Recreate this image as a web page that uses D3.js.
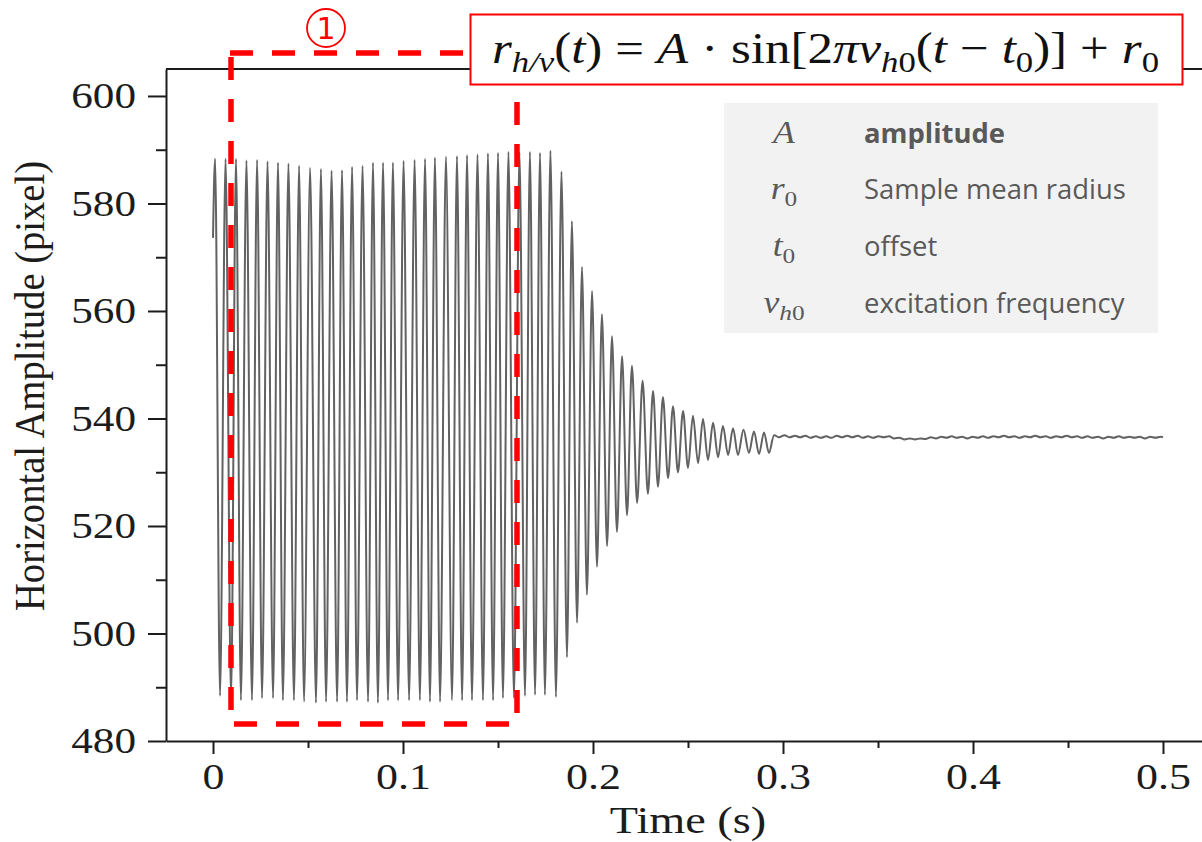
<!DOCTYPE html>
<html>
<head>
<meta charset="utf-8">
<script src="https://cdn.jsdelivr.net/npm/d3@7"></script>
<style>
  body { margin: 0; background: #ffffff; }
  svg { display: block; }
</style>
</head>
<body>
<svg id="chart" width="1202" height="842"></svg>
<script>
// ---- Measured horizontal amplitude of the sample (pixel) versus time (s) ----
// The record is stored as its successive extrema; the line is drawn through them.
const startTime = 0.0;
const startValue = 573.6;

const peakTimes = [
  0.0011, 0.0066, 0.0121, 0.0176, 0.0232, 0.0287, 0.0342, 0.0397, 0.0453, 0.0511,
  0.0568, 0.0624, 0.0679, 0.0732, 0.0787, 0.0842, 0.0895, 0.0947, 0.1003, 0.1061,
  0.1116, 0.1168, 0.1226, 0.1284, 0.1337, 0.1392, 0.1447, 0.1500, 0.1555, 0.1613,
  0.1668, 0.1721, 0.1776, 0.1834, 0.1889, 0.1942, 0.1995, 0.2047, 0.2100, 0.2153,
  0.2205, 0.2261, 0.2316, 0.2368, 0.2421, 0.2474, 0.2526, 0.2579, 0.2632, 0.2684,
  0.2737, 0.2792, 0.2847, 0.2900
];
const peakValues = [
  588.3, 588.3, 588.3, 588.0, 588.1, 587.8, 587.6, 587.4, 587.0, 586.6,
  586.4, 586.1, 586.2, 586.8, 587.0, 587.6, 587.6, 587.6, 587.9, 588.1,
  588.3, 588.5, 588.7, 588.8, 589.0, 589.1, 589.3, 589.4, 589.6, 589.5,
  589.6, 589.4, 589.8, 585.9, 576.7, 568.2, 563.7, 559.4, 555.3, 551.6,
  549.8, 547.0, 545.1, 544.0, 542.3, 541.4, 540.5, 539.9, 539.2, 538.6,
  538.2, 537.9, 537.6, 537.4
];

const troughTimes = [
  0.0037, 0.0095, 0.0147, 0.0205, 0.0258, 0.0316, 0.0368, 0.0426, 0.0479, 0.0542,
  0.0595, 0.0653, 0.0705, 0.0758, 0.0816, 0.0868, 0.0921, 0.0974, 0.1032, 0.1089,
  0.1142, 0.1195, 0.1258, 0.1311, 0.1363, 0.1421, 0.1474, 0.1526, 0.1584, 0.1642,
  0.1695, 0.1747, 0.1805, 0.1863, 0.1916, 0.1968, 0.2021, 0.2074, 0.2126, 0.2179,
  0.2232, 0.2289, 0.2342, 0.2395, 0.2447, 0.2500, 0.2553, 0.2605, 0.2658, 0.2711,
  0.2763, 0.2821, 0.2874, 0.2926
];
const troughValues = [
  488.4, 488.0, 487.6, 487.6, 488.0, 488.0, 487.6, 487.6, 487.3, 487.1,
  487.3, 487.3, 487.3, 487.6, 487.3, 487.1, 487.6, 487.6, 487.6, 487.6,
  487.3, 487.3, 487.6, 487.6, 487.6, 487.6, 487.6, 488.0, 488.0, 488.4,
  488.6, 488.6, 488.2, 495.6, 502.0, 507.2, 512.4, 516.3, 518.9, 522.0,
  524.3, 526.0, 527.3, 528.9, 530.0, 530.8, 531.7, 532.3, 532.8, 533.2,
  533.2, 533.6, 533.4, 533.6
];

// settled part of the record
const tailTimes = [
  0.2953, 0.2980, 0.3008, 0.3035, 0.3063, 0.3090, 0.3118, 0.3145, 0.3173, 0.3200,
  0.3228, 0.3255, 0.3283, 0.3310, 0.3338, 0.3365, 0.3393, 0.3420, 0.3448, 0.3475,
  0.3503, 0.3530, 0.3558, 0.3585, 0.3613, 0.3640, 0.3668, 0.3695, 0.3723, 0.3750,
  0.3778, 0.3805, 0.3833, 0.3860, 0.3888, 0.3915, 0.3943, 0.3970, 0.3998, 0.4025,
  0.4053, 0.4080, 0.4108, 0.4135, 0.4163, 0.4190, 0.4218, 0.4245, 0.4273, 0.4300,
  0.4328, 0.4355, 0.4383, 0.4410, 0.4438, 0.4465, 0.4493, 0.4520, 0.4548, 0.4575,
  0.4603, 0.4630, 0.4658, 0.4685, 0.4713, 0.4740, 0.4768, 0.4795, 0.4823, 0.4850,
  0.4878, 0.4905, 0.4933, 0.4960, 0.4988, 0.5000
];
const tailValues = [
  536.9, 536.5, 536.9, 536.5, 536.8, 536.5, 536.8, 536.4, 536.7, 536.4,
  536.7, 536.4, 536.8, 536.5, 536.8, 536.5, 536.8, 536.4, 536.7, 536.4,
  536.7, 536.5, 536.7, 536.3, 536.4, 536.1, 536.3, 536.1, 536.3, 536.2,
  536.5, 536.3, 536.6, 536.4, 536.7, 536.4, 536.6, 536.3, 536.6, 536.4,
  536.7, 536.4, 536.7, 536.5, 536.8, 536.5, 536.7, 536.4, 536.7, 536.5,
  536.8, 536.5, 536.7, 536.4, 536.7, 536.5, 536.8, 536.5, 536.7, 536.4,
  536.7, 536.4, 536.6, 536.3, 536.6, 536.4, 536.7, 536.4, 536.6, 536.4,
  536.6, 536.3, 536.6, 536.4, 536.6, 536.5
];

// axes
const xTicks = [0, 0.1, 0.2, 0.3, 0.4, 0.5];
const xTickLabels = ["0", "0.1", "0.2", "0.3", "0.4", "0.5"];
const xMinorTicks = [0.05, 0.15, 0.25, 0.35, 0.45];
const yTicks = [480, 500, 520, 540, 560, 580, 600];
const yTickLabels = ["480", "500", "520", "540", "560", "580", "600"];
const yMinorTicks = [490, 510, 530, 550, 570, 590];
const xTitle = "Time (s)";
const yTitle = "Horizontal Amplitude (pixel)";

// parameter legend
const legendSymbols = [
  [{ t: "A" }],
  [{ t: "r" }, { t: "0", sub: true }],
  [{ t: "t" }, { t: "0", sub: true }],
  [{ t: "v" }, { t: "h", sub: true }, { t: "0", sub: true, up: true }]
];
const legendTexts = ["amplitude", "Sample mean radius", "offset", "excitation frequency"];

// ---------------------------------------------------------------------------
const svg = d3.select("#chart");
const serif = "'Liberation Serif', 'Times New Roman', serif";
const ink = "#1c1c1c";

const x = d3.scaleLinear().domain([-0.02474, 0.52053]).range([166, 1202]);
const y = d3.scaleLinear().domain([480, 605]).range([741, 69.1]);

function stretch(sel, k) {
  sel.each(function () {
    const w = this.getComputedTextLength();
    d3.select(this).attr("textLength", w * k).attr("lengthAdjust", "spacingAndGlyphs");
  });
}

// signal
const pts = [{ t: startTime, v: startValue }];
peakTimes.forEach((t, i) => pts.push({ t, v: peakValues[i] }));
troughTimes.forEach((t, i) => pts.push({ t, v: troughValues[i] }));
tailTimes.forEach((t, i) => pts.push({ t, v: tailValues[i] }));
pts.sort((a, b) => a.t - b.t);

const line = d3.line().x(d => x(d.t)).y(d => y(d.v)).curve(d3.curveMonotoneX);
svg.append("path")
  .datum(pts)
  .attr("d", line)
  .attr("fill", "none")
  .attr("stroke", "#626262")
  .attr("stroke-width", 2)
  .attr("stroke-linejoin", "round");

// frame top
svg.append("line")
  .attr("x1", 166).attr("x2", 1202).attr("y1", 69).attr("y2", 69)
  .attr("stroke", ink).attr("stroke-width", 2);

// x axis
const gx = svg.append("g").attr("transform", "translate(0,741)")
  .call(d3.axisBottom(x).tickValues(xTicks).tickFormat((d, i) => xTickLabels[i])
    .tickSize(13).tickSizeOuter(0).tickPadding(9));
const gxm = svg.append("g").attr("transform", "translate(0,741)")
  .call(d3.axisBottom(x).tickValues(xMinorTicks).tickFormat("").tickSize(7).tickSizeOuter(0));
gxm.select(".domain").remove();

// y axis
const gy = svg.append("g").attr("transform", "translate(166,0)")
  .call(d3.axisLeft(y).tickValues(yTicks).tickFormat((d, i) => yTickLabels[i])
    .tickSize(18).tickSizeOuter(0).tickPadding(12));
const gym = svg.append("g").attr("transform", "translate(166,0)")
  .call(d3.axisLeft(y).tickValues(yMinorTicks).tickFormat("").tickSize(10).tickSizeOuter(0));
gym.select(".domain").remove();

[gx, gxm, gy, gym].forEach(g => {
  g.selectAll(".domain").attr("stroke", ink).attr("stroke-width", 2);
  g.selectAll(".tick line").attr("stroke", ink).attr("stroke-width", 2);
  g.selectAll("text").attr("font-family", serif).attr("font-size", 36).attr("fill", ink);
});
stretch(gx.selectAll("text"), 1.22);
stretch(gy.selectAll("text"), 1.2);

// axis titles
const xt = svg.append("text")
  .attr("x", 688).attr("y", 833)
  .attr("text-anchor", "middle")
  .attr("font-family", serif).attr("font-size", 37).attr("fill", ink)
  .text(xTitle);
stretch(xt, 1.25);

svg.append("text")
  .attr("transform", "translate(44,386) scale(1.15,1) rotate(-90)")
  .attr("text-anchor", "middle")
  .attr("font-family", serif).attr("font-size", 37).attr("fill", ink)
  .attr("textLength", 450).attr("lengthAdjust", "spacingAndGlyphs")
  .text(yTitle);

// highlighted window (dashed red)
const red = "#ff0000";
const dash = { "stroke": red, "stroke-width": 5.5, "stroke-dasharray": "23,19", "fill": "none" };
function dashed(x1, y1, x2, y2) {
  const l = svg.append("line").attr("x1", x1).attr("y1", y1).attr("x2", x2).attr("y2", y2);
  Object.entries(dash).forEach(([k, v]) => l.attr(k, v));
}
dashed(230, 53, 470, 53);
dashed(231, 57, 231, 712);
dashed(234, 724, 512, 724);
dashed(517, 102, 517, 715);

// window number
svg.append("circle")
  .attr("cx", 326).attr("cy", 28).attr("r", 19)
  .attr("fill", "none").attr("stroke", red).attr("stroke-width", 1.8);
svg.append("text")
  .attr("x", 326).attr("y", 39)
  .attr("text-anchor", "middle")
  .attr("font-family", "'DejaVu Sans', sans-serif")
  .attr("font-size", 30).attr("fill", red)
  .text("1");

// model equation
svg.append("rect")
  .attr("x", 470.5).attr("y", 14.5).attr("width", 712).attr("height", 70)
  .attr("fill", "#ffffff").attr("stroke", red).attr("stroke-width", 2);

const eq = [
  { t: "r", it: 1 }, { t: "h/v", it: 1, sub: 1 }, { t: "(" }, { t: "t", it: 1 }, { t: ")" }, { gap: 1 },
  { t: "=" }, { gap: 1 }, { t: "A", it: 1 }, { gap: 1 }, { t: "\u00b7" }, { gap: 1 },
  { t: "sin[2" }, { t: "\u03c0", it: 1 }, { t: "v", it: 1 }, { t: "h", it: 1, sub: 1 }, { t: "0", sub: 1 },
  { t: "(" }, { t: "t", it: 1 }, { gap: 1 }, { t: "\u2212" }, { gap: 1 }, { t: "t", it: 1 }, { t: "0", sub: 1 },
  { t: ")]" }, { gap: 1 }, { t: "+" }, { gap: 1 }, { t: "r", it: 1 }, { t: "0", sub: 1 }
];
const eqG = svg.append("g");
const eqFont = 44, eqSub = 30, eqBase = 63, eqLeft = 492, eqWidth = 667, gapW = 13;
const eqNodes = [];
let nGaps = 0;
eq.forEach(s => {
  if (s.gap) { nGaps++; eqNodes.push({ gap: true }); return; }
  const tx = eqG.append("text")
    .attr("font-family", serif)
    .attr("font-style", s.it ? "italic" : "normal")
    .attr("font-size", s.sub ? eqSub : eqFont)
    .attr("fill", "#111")
    .text(s.t);
  eqNodes.push({ node: tx, w: tx.node().getComputedTextLength(), sub: s.sub });
});
const used = d3.sum(eqNodes, d => d.w || 0);
const widen = (eqWidth - nGaps * gapW) / used;
let cx = eqLeft;
eqNodes.forEach(d => {
  if (d.gap) { cx += gapW; return; }
  const w = d.w * widen;
  d.node.attr("x", cx).attr("y", d.sub ? eqBase + 9 : eqBase)
    .attr("textLength", w).attr("lengthAdjust", "spacingAndGlyphs");
  cx += w;
});

// parameter legend box
svg.append("rect")
  .attr("x", 724).attr("y", 103).attr("width", 434).attr("height", 230)
  .attr("fill", "#f2f2f2");

const rowY = [133, 189, 246, 303];
const sans = "'Open Sans', 'Noto Sans', sans-serif";
// fit the description font to its measured width
const probe = svg.append("text").attr("font-family", sans).attr("font-size", 100).text(legendTexts[1]);
const descSize = 100 * 262 / probe.node().getComputedTextLength();
probe.remove();

legendSymbols.forEach((parts, i) => {
  const t = svg.append("text")
    .attr("x", 784).attr("y", rowY[i] + 10)
    .attr("text-anchor", "middle")
    .attr("font-family", serif).attr("fill", "#595959");
  parts.forEach(p => {
    const ts = t.append("tspan")
      .attr("font-style", (p.sub && p.t === "0") ? "normal" : "italic")
      .attr("font-size", p.sub ? 22 : 31)
      .text(p.t);
    if (p.sub && !p.up) ts.attr("dy", 7);
  });
  stretch(t, 1.15);
  svg.append("text")
    .attr("x", 864).attr("y", rowY[i])
    .attr("dy", "0.35em")
    .attr("font-family", sans)
    .attr("font-weight", i === 0 ? 700 : 400)
    .attr("font-size", descSize)
    .attr("fill", "#595959")
    .text(legendTexts[i]);
});
</script>
</body>
</html>
